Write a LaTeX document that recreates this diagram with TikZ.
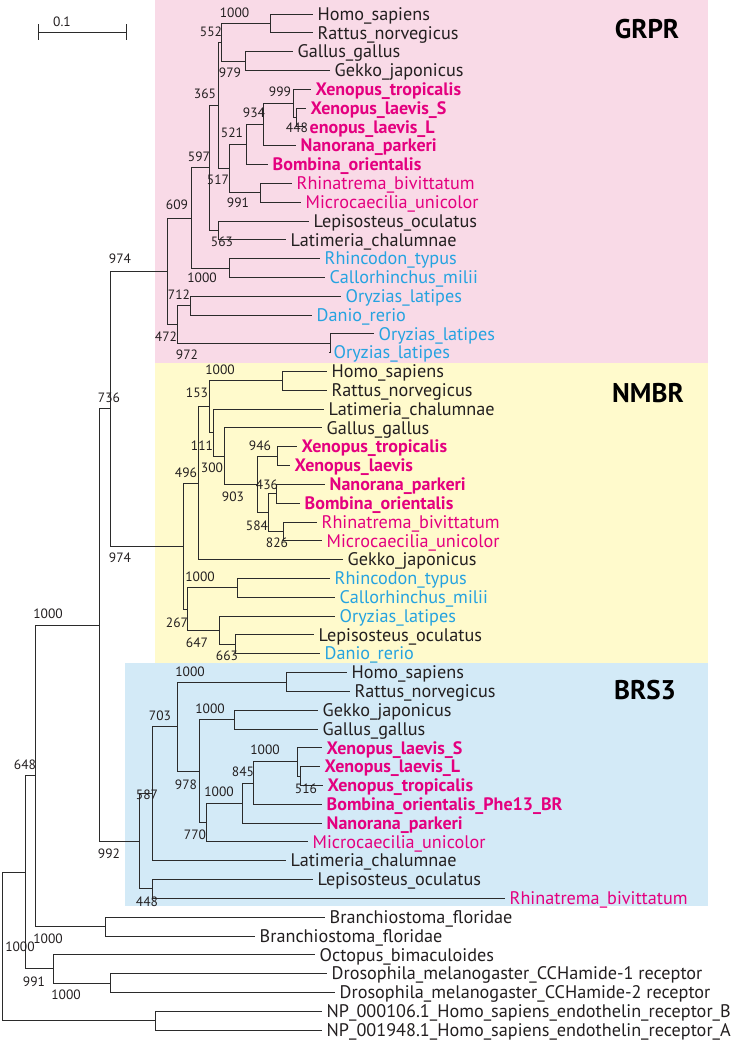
\documentclass[tikz,border=0pt]{standalone}
\usepackage{fontspec}
\setmainfont{PT Sans}
\definecolor{pinkbg}{HTML}{F9DAE7}
\definecolor{yelbg}{HTML}{FFFACC}
\definecolor{blubg}{HTML}{D3EAF7}
\definecolor{mag}{HTML}{E4007F}
\definecolor{cyn}{HTML}{26A3E0}
\definecolor{ink}{HTML}{231F20}
\definecolor{linec}{HTML}{2B2B2B}
\newcommand\brn[2]{\draw[br] (#1) |- (#2);}
\begin{document}
\begin{tikzpicture}[x=1pt,y=-1pt,
  br/.style={line width=0.9pt, draw=linec},
  lf/.style={anchor=west, inner sep=0pt, xshift=4.5pt, text height=12.5pt, text depth=0pt, font=\fontsize{18.2}{18}\selectfont, text=ink},
  lfm/.style={lf, text=mag},
  lfb/.style={lf, text=mag, font=\fontsize{18}{18}\selectfont\bfseries},
  lfc/.style={lf, text=cyn},
  bs/.style={inner sep=0pt, font=\fontsize{13.5}{13.5}\selectfont, text=ink},
  ttl/.style={inner sep=0pt, font=\fontsize{27}{27}\selectfont\bfseries, text=black}]
\useasboundingbox (0,0) rectangle (749,1042);
\fill[white] (0,0) rectangle (749,1042);
% backgrounds
\fill[pinkbg] (155,0) rectangle (708,363);
\fill[yelbg] (155,363) rectangle (708,663);
\fill[blubg] (125,663) rectangle (708,906);
\node[ttl] (tGRPR) at (647,29) {GRPR};
\node[ttl] (tNMBR) at (648,393) {NMBR};
\node[ttl] (tBRS3) at (645,690) {BRS3};
% scale bar
\coordinate (sbL) at (38,32);
\coordinate (sbR) at (126,32);
\draw[br] (sbL) -- (sbR);
\draw[br] (38,24) -- (38,40);
\draw[br] (126,24) -- (126,40);
\node[bs] (sbt) at (62,22) {0.1};

% ---------- GRPR leaves ----------
\coordinate (g0) at (313,14.0);  \node[lf] (tg0) at (g0) {Homo\_sapiens};
\coordinate (g1) at (313,32.8);  \node[lf] (tg1) at (g1) {Rattus\_norvegicus};
\coordinate (g2) at (293,51.6);  \node[lf] (tg2) at (g2) {Gallus\_gallus};
\coordinate (g3) at (330,70.4);  \node[lf] (tg3) at (g3) {Gekko\_japonicus};
\coordinate (g4) at (311,89.3);  \node[lfb] (tg4) at (g4) {Xenopus\_tropicalis};
\coordinate (g5) at (306,108.1); \node[lfb] (tg5) at (g5) {Xenopus\_laevis\_S};
\coordinate (g6) at (305,126.9); \node[lfb] (tg6) at (g6) {enopus\_laevis\_L};
\coordinate (g7) at (296,145.7); \node[lfb] (tg7) at (g7) {Nanorana\_parkeri};
\coordinate (g8) at (268,164.5); \node[lfb] (tg8) at (g8) {Bombina\_orientalis};
\coordinate (g9) at (292,183.3); \node[lfm] (tg9) at (g9) {Rhinatrema\_bivittatum};
\coordinate (g10) at (301,202.2); \node[lfm] (tg10) at (g10) {Microcaecilia\_unicolor};
\coordinate (g11) at (309,221.0); \node[lf] (tg11) at (g11) {Lepisosteus\_oculatus};
\coordinate (g12) at (286,239.8); \node[lf] (tg12) at (g12) {Latimeria\_chalumnae};
\coordinate (g13) at (320,258.6); \node[lfc] (tg13) at (g13) {Rhincodon\_typus};
\coordinate (g14) at (325,277.4); \node[lfc] (tg14) at (g14) {Callorhinchus\_milii};
\coordinate (g15) at (341,296.2); \node[lfc] (tg15) at (g15) {Oryzias\_latipes};
\coordinate (g16) at (312,315.0); \node[lfc] (tg16) at (g16) {Danio\_rerio};
\coordinate (g17) at (374,333.9); \node[lfc] (tg17) at (g17) {Oryzias\_latipes};
\coordinate (g18) at (329,352.7); \node[lfc] (tg18) at (g18) {Oryzias\_latipes};

% ---------- NMBR leaves ----------
\coordinate (n19) at (327,371.5); \node[lf] (tn19) at (n19) {Homo\_sapiens};
\coordinate (n20) at (327,390.3); \node[lf] (tn20) at (n20) {Rattus\_norvegicus};
\coordinate (n21) at (324,409.1); \node[lf] (tn21) at (n21) {Latimeria\_chalumnae};
\coordinate (n22) at (322,427.9); \node[lf] (tn22) at (n22) {Gallus\_gallus};
\coordinate (n23) at (297,446.7); \node[lfb] (tn23) at (n23) {Xenopus\_tropicalis};
\coordinate (n24) at (290,465.6); \node[lfb] (tn24) at (n24) {Xenopus\_laevis};
\coordinate (n25) at (325,484.4); \node[lfb] (tn25) at (n25) {Nanorana\_parkeri};
\coordinate (n26) at (300,503.2); \node[lfb] (tn26) at (n26) {Bombina\_orientalis};
\coordinate (n27) at (317,522.0); \node[lfm] (tn27) at (n27) {Rhinatrema\_bivittatum};
\coordinate (n28) at (322,540.8); \node[lfm] (tn28) at (n28) {Microcaecilia\_unicolor};
\coordinate (n29) at (343,559.6); \node[lf] (tn29) at (n29) {Gekko\_japonicus};
\coordinate (n30) at (330,578.5); \node[lfc] (tn30) at (n30) {Rhincodon\_typus};
\coordinate (n31) at (335,597.3); \node[lfc] (tn31) at (n31) {Callorhinchus\_milii};
\coordinate (n32) at (335,616.1); \node[lfc] (tn32) at (n32) {Oryzias\_latipes};
\coordinate (n33) at (314,634.9); \node[lf] (tn33) at (n33) {Lepisosteus\_oculatus};
\coordinate (n34) at (320,653.7); \node[lfc] (tn34) at (n34) {Danio\_rerio};

% ---------- BRS3 leaves ----------
\coordinate (b35) at (347,672.5); \node[lf] (tb35) at (b35) {Homo\_sapiens};
\coordinate (b36) at (350,691.4); \node[lf] (tb36) at (b36) {Rattus\_norvegicus};
\coordinate (b37) at (318,710.2); \node[lf] (tb37) at (b37) {Gekko\_japonicus};
\coordinate (b38) at (318,729.0); \node[lf] (tb38) at (b38) {Gallus\_gallus};
\coordinate (b39) at (322,747.8); \node[lfb] (tb39) at (b39) {Xenopus\_laevis\_S};
\coordinate (b40) at (320,766.6); \node[lfb] (tb40) at (b40) {Xenopus\_laevis\_L};
\coordinate (b41) at (323,785.4); \node[lfb] (tb41) at (b41) {Xenopus\_tropicalis};
\coordinate (b42) at (322,804.2); \node[lfb] (tb42) at (b42) {Bombina\_orientalis\_Phe13\_BR};
\coordinate (b43) at (322,823.1); \node[lfb] (tb43) at (b43) {Nanorana\_parkeri};
\coordinate (b44) at (308,841.9); \node[lfm] (tb44) at (b44) {Microcaecilia\_unicolor};
\coordinate (b45) at (286,860.7); \node[lf] (tb45) at (b45) {Latimeria\_chalumnae};
\coordinate (b46) at (313,879.5); \node[lf] (tb46) at (b46) {Lepisosteus\_oculatus};
\coordinate (b47) at (505,898.3); \node[lfm] (tb47) at (b47) {Rhinatrema\_bivittatum};

% ---------- outgroup leaves ----------
\coordinate (e48) at (325,917.1); \node[lf] (te48) at (e48) {Branchiostoma\_floridae};
\coordinate (e49) at (255,936.0); \node[lf] (te49) at (e49) {Branchiostoma\_floridae};
\coordinate (e50) at (315,954.8); \node[lf] (te50) at (e50) {Octopus\_bimaculoides};
\coordinate (e51) at (327,973.6); \node[lf] (te51) at (e51) {Drosophila\_melanogaster\_CCHamide-1 receptor};
\coordinate (e52) at (335,992.4); \node[lf] (te52) at (e52) {Drosophila\_melanogaster\_CCHamide-2 receptor};
\coordinate (e53) at (322,1011.2); \node[lf] (te53) at (e53) {NP\_000106.1\_Homo\_sapiens\_endothelin\_receptor\_B};
\coordinate (e54) at (322,1030.0); \node[lf] (te54) at (e54) {NP\_001948.1\_Homo\_sapiens\_endothelin\_receptor\_A};

% ---------- internal nodes ----------
\coordinate (ga1000) at (270,23.4);
\coordinate (ga979) at (245,61.0);
\coordinate (ga552) at (221,42.2);
\coordinate (ga448) at (296,117.5);
\coordinate (ga999) at (293,103.4);
\coordinate (ga934) at (263,124.6);
\coordinate (ga521) at (246,144.5);
\coordinate (ga991) at (260,192.7);
\coordinate (ga517) at (229,168.6);
\coordinate (ga365) at (218,105.4);
\coordinate (ga563) at (218,230.4);
\coordinate (ga597) at (209,167.9);
\coordinate (gaR1000) at (229,268.0);
\coordinate (ga609) at (191,218.0);
\coordinate (ga712) at (190,305.6);
\coordinate (ga972) at (330,343.3);
\coordinate (ga472) at (177,324.5);
\coordinate (groot) at (167,271.2);

\coordinate (nb1000) at (282,380.9);
\coordinate (nb946) at (277,456.2);
\coordinate (nb436) at (276,493.8);
\coordinate (nb826) at (283,531.4);
\coordinate (nb584) at (268,512.6);
\coordinate (nb903) at (257,484.4);
\coordinate (nb300) at (224,456.2);
\coordinate (nb111) at (213,432.6);
\coordinate (nb153) at (209,406.8);
\coordinate (nb496) at (198,483.2);
\coordinate (nbR1000) at (237,587.9);
\coordinate (nb663) at (235,644.3);
\coordinate (nb647) at (219,630.2);
\coordinate (nb267) at (187,609.0);
\coordinate (nroot) at (183,546.1);

\coordinate (bc1000) at (286,682.0);
\coordinate (bcG) at (234,719.6);
\coordinate (bc516) at (300,776.0);
\coordinate (bcX) at (297,761.9);
\coordinate (bc845) at (253,783.1);
\coordinate (bcY) at (242,803.1);
\coordinate (bc770) at (206,822.5);
\coordinate (bc978) at (199,771.0);
\coordinate (bc703) at (177,726.5);
\coordinate (bc587) at (152,793.6);
\coordinate (bc448) at (152,888.9);
\coordinate (croot) at (139,841.3);

\coordinate (n974) at (110,408.7);
\coordinate (n736) at (99,625.0);
\coordinate (dBran) at (105,926.5);
\coordinate (d1000) at (35,775.8);
\coordinate (dDro) at (110,983.0);
\coordinate (d991) at (53,968.9);
\coordinate (d648) at (25,872.3);
\coordinate (dEnd) at (155,1020.6);
\coordinate (droot) at (2,946.5);

% ---------- connectors ----------
\brn{ga1000}{g0} \brn{ga1000}{g1}
\brn{ga979}{g2} \brn{ga979}{g3}
\brn{ga552}{ga1000} \brn{ga552}{ga979}
\brn{ga448}{g5} \brn{ga448}{g6}
\brn{ga999}{g4} \brn{ga999}{ga448}
\brn{ga934}{ga999} \brn{ga934}{g7}
\brn{ga521}{ga934} \brn{ga521}{g8}
\brn{ga991}{g9} \brn{ga991}{g10}
\brn{ga517}{ga521} \brn{ga517}{ga991}
\brn{ga365}{ga552} \brn{ga365}{ga517}
\brn{ga563}{g11} \brn{ga563}{g12}
\brn{ga597}{ga365} \brn{ga597}{ga563}
\brn{gaR1000}{g13} \brn{gaR1000}{g14}
\brn{ga609}{ga597} \brn{ga609}{gaR1000}
\brn{ga712}{g15} \brn{ga712}{g16}
\brn{ga972}{g17} \brn{ga972}{g18}
\brn{ga472}{ga712} \brn{ga472}{ga972}
\brn{groot}{ga609} \brn{groot}{ga472}

\brn{nb1000}{n19} \brn{nb1000}{n20}
\brn{nb946}{n23} \brn{nb946}{n24}
\brn{nb436}{n25} \brn{nb436}{n26}
\brn{nb826}{n27} \brn{nb826}{n28}
\brn{nb584}{nb436} \brn{nb584}{nb826}
\brn{nb903}{nb946} \brn{nb903}{nb584}
\brn{nb300}{n22} \brn{nb300}{nb903}
\brn{nb111}{n21} \brn{nb111}{nb300}
\brn{nb153}{nb1000} \brn{nb153}{nb111}
\brn{nb496}{nb153} \brn{nb496}{n29}
\brn{nbR1000}{n30} \brn{nbR1000}{n31}
\brn{nb663}{n33} \brn{nb663}{n34}
\brn{nb647}{n32} \brn{nb647}{nb663}
\brn{nb267}{nbR1000} \brn{nb267}{nb647}
\brn{nroot}{nb496} \brn{nroot}{nb267}

\brn{bc1000}{b35} \brn{bc1000}{b36}
\brn{bcG}{b37} \brn{bcG}{b38}
\brn{bc516}{b40} \brn{bc516}{b41}
\brn{bcX}{b39} \brn{bcX}{bc516}
\brn{bc845}{bcX} \brn{bc845}{b42}
\brn{bcY}{bc845} \brn{bcY}{b43}
\brn{bc770}{bcY} \brn{bc770}{b44}
\brn{bc978}{bcG} \brn{bc978}{bc770}
\brn{bc703}{bc1000} \brn{bc703}{bc978}
\brn{bc587}{bc703} \brn{bc587}{b45}
\brn{bc448}{b46} \brn{bc448}{b47}
\brn{croot}{bc587} \brn{croot}{bc448}

\brn{n974}{groot} \brn{n974}{nroot}
\brn{n736}{n974} \brn{n736}{croot}
\brn{dBran}{e48} \brn{dBran}{e49}
\brn{d1000}{n736} \brn{d1000}{dBran}
\brn{dDro}{e51} \brn{dDro}{e52}
\brn{d991}{e50} \brn{d991}{dDro}
\brn{d648}{d1000} \brn{d648}{d991}
\brn{dEnd}{e53} \brn{dEnd}{e54}
\brn{droot}{d648} \brn{droot}{dEnd}

% ---------- bootstrap labels ----------
\node[bs] (s01) at (234.5,13) {1000};
\node[bs] (s02) at (211,32) {552};
\node[bs] (s03) at (230,73) {979};
\node[bs] (s04) at (205,94) {365};
\node[bs] (s05) at (280,92) {999};
\node[bs] (s06) at (254,113) {934};
\node[bs] (s07) at (297,128) {448};
\node[bs] (s08) at (232,133) {521};
\node[bs] (s09) at (199,157) {597};
\node[bs] (s10) at (218,180) {517};
\node[bs] (s11) at (238,203) {991};
\node[bs] (s12) at (177,205) {609};
\node[bs] (s13) at (222,242) {563};
\node[bs] (s14) at (202,278) {1000};
\node[bs] (s15) at (179,295) {712};
\node[bs] (s16) at (166,337) {472};
\node[bs] (s17) at (187,355) {972};

\node[bs] (s18) at (120,259) {974};
\node[bs] (s19) at (120,558) {974};
\node[bs] (s20) at (109,398) {736};
\node[bs] (s21) at (48,614) {1000};
\node[bs] (s22) at (109,854) {992};
\node[bs] (s23) at (25,765) {648};
\node[bs] (s24) at (48,939) {1000};
\node[bs] (s25) at (20,947) {1000};
\node[bs] (s26) at (34,982) {991};
\node[bs] (s27) at (66,995) {1000};

\node[bs] (s28) at (220,370) {1000};
\node[bs] (s29) at (197,393) {153};
\node[bs] (s30) at (202,446) {111};
\node[bs] (s31) at (260,446) {946};
\node[bs] (s32) at (212,468) {300};
\node[bs] (s33) at (267,485) {436};
\node[bs] (s34) at (186,473) {496};
\node[bs] (s35) at (233,497) {903};
\node[bs] (s36) at (257,526) {584};
\node[bs] (s37) at (277,543) {826};
\node[bs] (s38) at (200,577) {1000};
\node[bs] (s39) at (177,623) {267};
\node[bs] (s40) at (197,643) {647};
\node[bs] (s41) at (227,656) {663};

\node[bs] (s42) at (190,672) {1000};
\node[bs] (s43) at (160,716) {703};
\node[bs] (s44) at (210,709) {1000};
\node[bs] (s45) at (186,785) {978};
\node[bs] (s46) at (265,750) {1000};
\node[bs] (s47) at (243,772) {845};
\node[bs] (s48) at (306,789) {516};
\node[bs] (s49) at (219,792) {1000};
\node[bs] (s50) at (195,835) {770};
\node[bs] (s51) at (147,795) {587};
\node[bs] (s52) at (147,902) {448};
\end{tikzpicture}
\end{document}
